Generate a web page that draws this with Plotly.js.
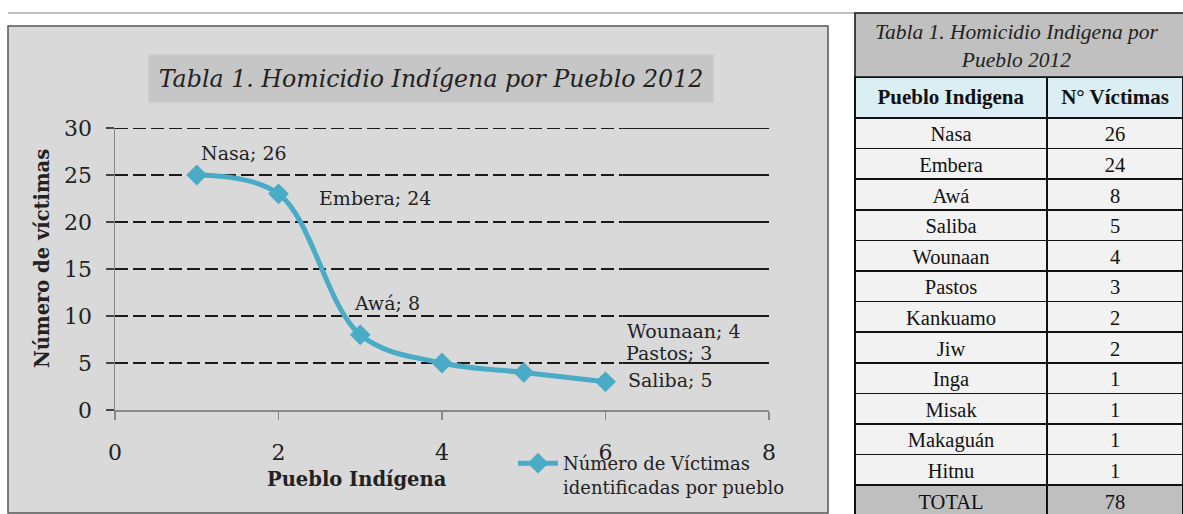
<!DOCTYPE html>
<html>
<head>
<meta charset="utf-8">
<script src="https://cdn.plot.ly/plotly-3.0.1.min.js"></script>
<style>html,body{margin:0;padding:0;background:#fff;}#chart{width:1183px;height:514px;}</style>
</head>
<body>
<div id="chart"></div>
<script>
// ---- data ----
const pueblos = ["Nasa","Embera","Awá","Saliba","Wounaan","Pastos","Kankuamo","Jiw","Inga","Misak","Makaguán","Hitnu"];
const victimas = [26,24,8,5,4,3,2,2,1,1,1,1];
const totalLabel = "TOTAL";
const totalValue = 78;
// chart series (as plotted in the picture)
const chartX = [1,2,3,4,5,6];
const chartY = [25,23,8,5,4,3];
const chartNames = ["Nasa","Embera","Awá","Saliba","Wounaan","Pastos"];
const chartLabelValues = [26,24,8,5,4,3];
const yTicks = [0,5,10,15,20,25,30];
const xTicks = [0,2,4,6,8];
const chartTitle = "Tabla 1. Homicidio Indígena por Pueblo 2012";
const tableTitle = "Tabla 1. Homicidio Indigena por<br>Pueblo 2012";
const xTitle = "Pueblo Indígena";
const yTitle = "Número de víctimas";
const seriesName = "Número de Víctimas<br>identificadas por pueblo";
const tableHeaders = ["Pueblo Indigena","N° Víctimas"];

// ---- styles ----
const W = 1183, H = 514;
const px = v => v / W;
const py = v => 1 - v / H;
const serif = "DejaVu Serif, serif";
const tserif = "Liberation Serif, Times New Roman, serif";
const teal = "#4aabc6";

// label offsets (pixels) for each point label
const labelShift = [[47,22],[96,-4],[27,32],[228,-17],[160,41],[63,29]];

const trace = {
  type: "scatter", mode: "lines+markers",
  x: chartX, y: chartY, name: seriesName,
  line: {color: teal, width: 5, shape: "spline", smoothing: 1},
  marker: {symbol: "diamond", size: 16, color: teal},
  xaxis: "x", yaxis: "y", hoverinfo: "x+y"
};

const cellFill = pueblos.map(() => "#f2f2f2").concat(["#bfbfbf"]);
const table = {
  type: "table",
  domain: {x: [px(855), 1], y: [0, py(77)]},
  columnwidth: [192, 136],
  header: {
    values: tableHeaders.map(h => "<b>" + h + "</b>"),
    fill: {color: "#dbeef3"},
    line: {color: "#111", width: 1.5},
    align: "center", height: 41,
    font: {family: tserif, size: 21, color: "#111"}
  },
  cells: {
    values: [pueblos.concat([totalLabel]), victimas.concat([totalValue])],
    fill: {color: [cellFill, cellFill]},
    line: {color: "#111", width: 1.5},
    align: "center", height: 30.6,
    font: {family: tserif, size: 20.5, color: "#111"}
  }
};

const shapes = [
  // outer chart box
  {type: "rect", xref: "paper", yref: "paper", x0: px(8), x1: px(828), y0: py(513), y1: py(26),
   fillcolor: "#d9d9d9", line: {color: "#555", width: 1.5}, layer: "below"},
  // top page line
  {type: "line", xref: "paper", yref: "paper", x0: px(8), x1: px(855), y0: py(13), y1: py(13),
   line: {color: "#aaaaaa", width: 1.5}},
  // title box of the table
  {type: "rect", xref: "paper", yref: "paper", x0: px(855), x1: px(1195), y0: py(77), y1: py(13),
   fillcolor: "#c0c0c0", line: {color: "#111", width: 1.5}}
];
// gridlines: dashed then solid (as in the picture)
yTicks.filter(v => v > 0).forEach(v => {
  shapes.push({type: "line", xref: "x", yref: "y", x0: 0, x1: 6.21, y0: v, y1: v,
    line: {color: "#1a1a1a", width: 1.8, dash: "13px,5px"}, layer: "below"});
  shapes.push({type: "line", xref: "x", yref: "y", x0: 6.21, x1: 8, y0: v, y1: v,
    line: {color: "#1a1a1a", width: 1.8}, layer: "below"});
});

const annotations = [
  {xref: "paper", yref: "paper", x: px(431), y: py(78), text: "<i>" + chartTitle + "</i>",
   showarrow: false, bgcolor: "#c6c6c6", width: 562, height: 45,
   font: {family: serif, size: 23.7, color: "#222"}, xanchor: "center", yanchor: "middle"},
  {xref: "paper", yref: "paper", x: px(357), y: py(479), text: "<b>" + xTitle + "</b>",
   showarrow: false, font: {family: serif, size: 19.5, color: "#222"}, xanchor: "center", yanchor: "middle"},
  {xref: "paper", yref: "paper", x: px(42), y: py(259), text: "<b>" + yTitle + "</b>", textangle: -90,
   showarrow: false, font: {family: serif, size: 19.5, color: "#222"}, xanchor: "center", yanchor: "middle"},
  {xref: "paper", yref: "paper", x: px(1017), y: py(46), text: "<i>" + tableTitle + "</i>",
   showarrow: false, font: {family: tserif, size: 21.5, color: "#222"}, xanchor: "center", yanchor: "middle"}
];
chartX.forEach((x, i) => {
  annotations.push({xref: "x", yref: "y", x: x, y: chartY[i],
    text: chartNames[i] + "; " + chartLabelValues[i], showarrow: false,
    xanchor: "center", yanchor: "middle", xshift: labelShift[i][0], yshift: labelShift[i][1],
    font: {family: serif, size: 19, color: "#222"}});
});

const layout = {
  width: W, height: H,
  margin: {l: 0, r: 0, t: 0, b: 0},
  paper_bgcolor: "#ffffff",
  plot_bgcolor: "#dbedf3",
  showlegend: true,
  legend: {x: px(513), y: py(445), xanchor: "left", yanchor: "top", bgcolor: "rgba(0,0,0,0)",
           font: {family: serif, size: 18, color: "#222"}, valign: "top", itemwidth: 40},
  xaxis: {domain: [px(115), px(769)], range: [0, 8], tickvals: xTicks, ticks: "outside", ticklen: 8,
          tickcolor: "#888", tickwidth: 1.5, showgrid: false, zeroline: false, showline: true,
          linecolor: "#888", linewidth: 1.5, ticklabelstandoff: 14,
          tickfont: {family: serif, size: 22, color: "#222"}, anchor: "y", fixedrange: true},
  yaxis: {domain: [py(410), py(128)], range: [0, 30], tickvals: yTicks, ticks: "outside", ticklen: 8,
          tickcolor: "#444", tickwidth: 1.5, showgrid: false, zeroline: false, showline: true,
          linecolor: "#888", linewidth: 1.5, ticklabelstandoff: 9,
          tickfont: {family: serif, size: 22, color: "#222"}, anchor: "x", fixedrange: true},
  shapes: shapes,
  annotations: annotations
};

Plotly.newPlot("chart", [trace, table], layout, {displayModeBar: false, staticPlot: true});
</script>
</body>
</html>
